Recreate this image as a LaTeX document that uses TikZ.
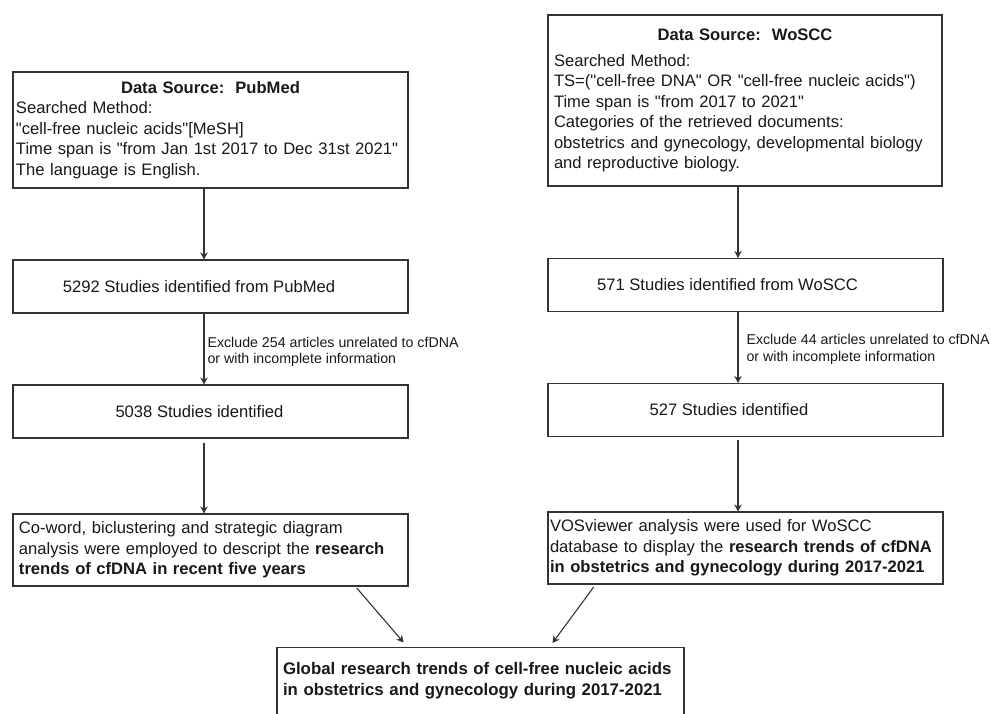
\documentclass[tikz,border=0pt]{standalone}
\usepackage{fontspec}
\setmainfont{Liberation Sans}[Ligatures=TeXOff]
\usepackage{xcolor}
\usetikzlibrary{arrows.meta,positioning}
\definecolor{flowgray}{HTML}{333333}

\begin{document}
\begin{tikzpicture}[
  >={Stealth[length=7pt,width=7.5pt]}, x=1pt, y=-1pt,
  every node/.style={text=black!90},
  box/.style={draw=flowgray,line width=1.1pt,font=\fontsize{16.6}{20.5}\selectfont},
  countbox/.style={box,minimum width=395pt,minimum height=53pt},
  infobox/.style={box,align=left,inner ysep=0pt},
  flow/.style={->,draw=flowgray,line width=1.1pt},
  note/.style={font=\fontsize{14.2}{16.5}\selectfont,align=left,inner sep=0pt}]
\useasboundingbox[fill=white] (0,0) rectangle (991,713);
\node[infobox,inner xsep=3pt,text width=389pt,minimum height=116pt] (pubmed) at (210.5,130)
  {\makebox[\linewidth]{\textbf{Data Source:\ \ PubMed}}\\
   Searched Method:\\
   "cell-free nucleic acids"[MeSH]\\
   Time span is "from Jan 1st 2017 to Dec 31st 2021"\\
   The language is English.};
\node[infobox,inner xsep=6pt,text width=382pt,minimum height=171pt] (woscc) at (745,100.5)
  {\makebox[\linewidth]{\textbf{Data Source:\ \ WoSCC}}\\[5pt]
   Searched Method:\\
   TS=("cell-free DNA" OR "cell-free nucleic acids")\\
   Time span is "from 2017 to 2021"\\
   Categories of the retrieved documents:\\
   obstetrics and gynecology, developmental biology\\
   and reproductive biology.};
\node[countbox] (pmfound) at (210.5,286.5) {5292 Studies identified from PubMed\hspace*{23pt}};
\node[countbox] (wsfound) at (745.5,285) {571 Studies identified from WoSCC\hspace*{36pt}};
\node[countbox] (pmkept) at (210.5,411.5) {5038 Studies identified\hspace*{22pt}};
\node[countbox] (wskept) at (745.5,410) {527 Studies identified\hspace*{33pt}};
\node[infobox,inner xsep=6pt,text width=383pt,minimum height=72pt] (pmtrend) at (210.5,550)
  {Co-word, biclustering and strategic diagram\\
   analysis were employed to descript the \textbf{research}\\
   \textbf{trends of cfDNA in recent five years}};
\node[infobox,inner xsep=2pt,text width=391pt,minimum height=72pt] (wstrend) at (745.5,548)
  {VOSviewer analysis were used for WoSCC\\
   database to display the \textbf{research trends of cfDNA}\\
   \textbf{in obstetrics and gynecology during 2017-2021}};
\node[box,anchor=north,inner xsep=6pt,inner ysep=15pt,text width=395pt,align=left,
  text depth=60pt,font=\bfseries\fontsize{16.8}{20.5}\selectfont] (global) at (480.5,647)
  {Global research trends of cell-free nucleic acids\\
   in obstetrics and gynecology during 2017-2021};
\coordinate (pmlane) at (204,0);
\coordinate (wslane) at (738,0);
\draw[flow] (pubmed.south -| pmlane) -- (pmfound.north -| pmlane);
\draw[flow] (woscc.south -| wslane) -- (wsfound.north -| wslane);
\draw[flow] (pmfound.south -| pmlane) -- node[note,right=3pt,yshift=-3pt] (pmexcl)
  {Exclude 254 articles unrelated to cfDNA\\or with incomplete information} (pmkept.north -| pmlane);
\draw[flow] (wsfound.south -| wslane) -- node[note,right=8pt,yshift=-2pt] (wsexcl)
  {Exclude 44 articles unrelated to cfDNA\\or with incomplete information} (wskept.north -| wslane);
\draw[flow,shorten <=4pt] (pmkept.south -| pmlane) -- (pmtrend.north -| pmlane);
\draw[flow,shorten <=3pt] (wskept.south -| wslane) -- (wstrend.north -| wslane);
\draw[flow,shorten <=2pt,shorten >=6pt] ([xshift=145pt]pmtrend.south) -- ([xshift=-73pt]global.north);
\draw[flow,shorten <=3pt,shorten >=5pt] ([xshift=-150pt]wstrend.south) -- ([xshift=69pt]global.north);
\end{tikzpicture}
\end{document}
